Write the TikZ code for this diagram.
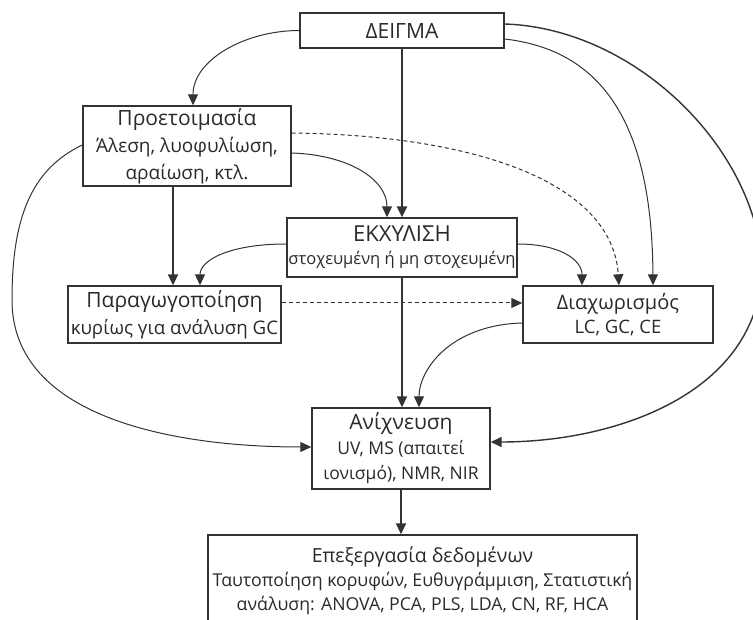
\documentclass[tikz,border=0pt]{standalone}
\usepackage{fontspec}
\setmainfont{Open Sans}
\usetikzlibrary{arrows.meta,calc}
\definecolor{lc}{HTML}{333333}
\definecolor{tc}{HTML}{2A2A2A}
\newcommand{\fz}[1]{\fontsize{#1}{\baselineskip}\selectfont}
\tikzset{
  box/.style={draw=lc, line width=1.4pt, fill=white, align=center, inner sep=0pt, text=tc},
  lsk/.style={font=\fontsize{20}{#1}\selectfont},
  conn/.style={draw=lc, line width=1pt, -{Triangle[length=11pt,width=10pt]}},
  thick conn/.style={conn, line width=2pt},
  dash conn/.style={conn, dash pattern=on 4pt off 3pt},
}
\begin{document}
\begin{tikzpicture}[x=1pt,y=-1pt]
\fill[white] (0,0) rectangle (753,620);
\useasboundingbox (0,0) rectangle (753,620);
\begin{scope}
\clip (0,0) rectangle (753,620);
% nodes
\node[box, lsk=24, minimum width=204pt, minimum height=35pt] (deigma) at (402,30.5) {\fz{21}ΔΕΙΓΜΑ};
\node[box, lsk=27, minimum width=208pt, minimum height=80pt] (prep) at (187,146)
  {\fz{21}Προετοιμασία\\ \fz{19}Άλεση, λυοφυλίωση,\\ \fz{19}αραίωση, κτλ.};
\node[box, lsk=23, minimum width=230pt, minimum height=59pt] (ext) at (402,247.5)
  {\fz{22}ΕΚΧΥΛΙΣΗ\\ \fz{16.5}στοχευμένη ή μη στοχευμένη};
\node[box, lsk=27, minimum width=213pt, minimum height=57pt] (deriv) at (174.5,314.5)
  {\fz{21}Παραγωγοποίηση\\ \fz{18.7}κυρίως για ανάλυση GC};
\node[box, lsk=24, minimum width=190pt, minimum height=57pt] (sep) at (618,314.5)
  {\fz{20}Διαχωρισμός\\ \fz{18.5}LC, GC, CE};
\node[box, lsk=25, minimum width=178pt, minimum height=81pt] (det) at (401,448.5)
  {\fz{21}Ανίχνευση\\ \fz{17.5}UV, MS (απαιτεί\\ \fz{17.5}ιονισμό), NMR, NIR};
\node[box, lsk=24, minimum width=429pt, minimum height=92pt] (proc) at (422.5,581)
  {\fz{19.5}Επεξεργασία δεδομένων\\ \fz{17.7}Ταυτοποίηση κορυφών, Ευθυγράμμιση, Στατιστική\\ \fz{17.7}ανάλυση: ANOVA, PCA, PLS, LDA, CN, RF, HCA};
% connectors
\draw[conn] (deigma.west) .. controls (245,30.5) and (193,60) .. ([xshift=6pt]prep.north);
\draw[thick conn, line width=2.4pt] (deigma.south) -- (ext.north);
\draw[conn] ([yshift=-8.5pt]deigma.east) .. controls (600,50) and (652,120) .. ([xshift=35pt]sep.north);
\draw[conn, line width=1.4pt] ([yshift=6.5pt]deigma.east) .. controls (630,28) and (750,140) .. (762,260)
   .. controls (765,390) and (620,442) .. ([yshift=6.5pt]det.east);
\draw[dash conn] ([yshift=13pt]prep.east) .. controls (470,135) and (612,180) .. ([xshift=1pt]sep.north);
\draw[conn] ([yshift=-7pt]prep.east) .. controls (350,155) and (387,180) .. ([xshift=-15pt]ext.north);
\draw[thick conn] ([xshift=-14pt]prep.south) -- ([xshift=-14pt]prep.south |- deriv.north);
\draw[conn] ([yshift=1pt]prep.west) .. controls (30,170) and (12,220) .. (12,300)
   .. controls (12,420) and (180,447) .. ([yshift=1.5pt]det.west);
\draw[conn] ([yshift=3.5pt]ext.west) .. controls (230,244) and (200,260) .. ([xshift=25.5pt]deriv.north);
\draw[conn] ([yshift=3.5pt]ext.east) .. controls (560,244) and (582,260) .. ([xshift=-36pt]sep.north);
\draw[thick conn, line width=1.8pt] (ext.south) -- (ext.south |- det.north);
\draw[conn] ([yshift=-8.5pt]sep.west) .. controls (450,325) and (419,370) .. ([xshift=18pt]det.north);
\draw[dash conn] ([yshift=11.5pt]deriv.east) -- ([yshift=11.5pt]deriv.east -| sep.west);
\draw[thick conn] (det.south) -- (det.south |- proc.north);
\end{scope}
\end{tikzpicture}
\end{document}
